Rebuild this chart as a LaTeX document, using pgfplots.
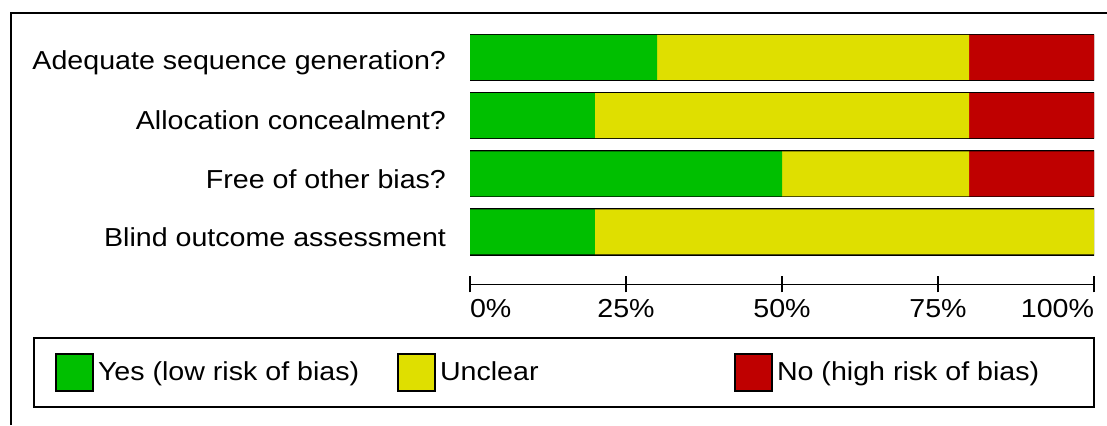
\documentclass[border=0pt]{standalone}
\usepackage{fontspec}
\setmainfont{Liberation Sans}[FakeStretch=1.1]
\usepackage{pgfplots}
\pgfplotsset{compat=1.18}
\definecolor{rbYes}{RGB}{0,191,0}
\definecolor{rbUnclear}{RGB}{223,223,0}
\definecolor{rbNo}{RGB}{191,0,0}

\begin{document}
\begin{tikzpicture}
% picture measured in reference pixels, 1px = 0.5pt
\begin{scope}[x=0.5pt,y=0.5pt]
\useasboundingbox (0,0) rectangle (1107,425);
\draw[line width=1pt] (11,0) -- (11,412) -- (1107,412);
\end{scope}
\begin{axis}[
    at={(235pt,70.325pt)}, anchor=south west,
    scale only axis, width=312pt, height=128pt,
    xbar stacked, bar width=22.5pt,
    xmin=0, xmax=100, ymin=-0.9, ymax=3.5,
    axis x line=bottom, axis y line=left,
    x axis line style={-, line width=0.8pt},
    y axis line style={draw=none},
    xtick={0,25,50,75,100},
    xticklabels={\makebox[0pt][l]{0\%},25\%,50\%,75\%,\makebox[0pt][r]{100\%}},
    xticklabel style={inner xsep=0pt},
    xtick align=center, major tick length=8pt,
    xtick style={line width=0.8pt, black},
    ytick={0,1,2,3}, ytick style={draw=none},
    yticklabels={Blind outcome assessment, Free of other bias?, Allocation concealment?, Adequate sequence generation?},
    yticklabel style={xshift=-4.5pt, yshift=-2.5pt},
    tick label style={font=\fontsize{13}{15}\selectfont},
    legend columns=3, legend cell align=left,
    legend image code/.code={\draw[#1, draw=black, line width=1pt] (0pt,-9.25pt) rectangle (18.5pt,9.25pt);},
    legend style={at={(-0.7003,-0.2057)}, anchor=north west, draw=black, line width=1pt,
        inner xsep=10.5pt, inner ysep=7.5pt,
        font=\fontsize{13}{15}\selectfont, column sep=0pt},
]
\addplot[fill=rbYes, draw=none] coordinates {(20,0) (50,1) (20,2) (30,3)};
\addlegendentry{\makebox[147.5pt][l]{Yes (low risk of bias)}}
\addplot[fill=rbUnclear, draw=none] coordinates {(80,0) (30,1) (60,2) (50,3)};
\addlegendentry{\makebox[145pt][l]{Unclear}}
\addplot[fill=rbNo, draw=none] coordinates {(0,0) (20,1) (20,2) (20,3)};
\addlegendentry{\makebox[146pt][l]{No (high risk of bias)}}
\pgfplotsinvokeforeach{0,1,2,3}{
  \draw[line width=1pt] (axis cs:0,#1-0.3868) rectangle (axis cs:100,#1+0.3868);
}
\end{axis}
\end{tikzpicture}
\end{document}
